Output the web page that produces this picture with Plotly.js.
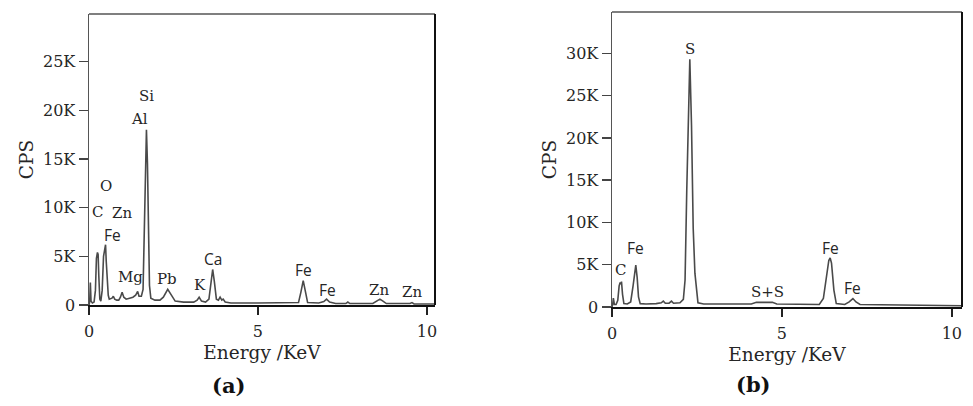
<!DOCTYPE html>
<html>
<head>
<meta charset="utf-8">
<script src="https://cdn.plot.ly/plotly-3.0.1.min.js"></script>
<style>
  html, body { margin: 0; padding: 0; background: #fff; }
  #chart { width: 973px; height: 406px; }
</style>
</head>
<body>
<div id="chart"></div>
<script>
// ---- Data: spectrum (a) ----
const energyA = [0.00,0.02,0.04,0.06,0.10,0.15,0.19,0.22,0.25,0.27,0.29,0.32,0.35,0.39,0.43,0.46,0.49,0.51,0.54,0.57,0.60,0.68,0.72,0.76,0.82,0.88,0.93,0.98,1.03,1.10,1.20,1.30,1.38,1.44,1.48,1.55,1.60,1.63,1.66,1.70,1.73,1.76,1.79,1.83,1.95,2.10,2.20,2.33,2.45,2.55,2.80,3.10,3.20,3.26,3.33,3.45,3.55,3.62,3.66,3.71,3.77,3.83,3.88,3.93,3.97,4.03,4.20,5.00,6.00,6.20,6.27,6.34,6.41,6.47,6.80,6.95,7.03,7.12,7.30,7.60,7.66,7.72,8.40,8.52,8.61,8.70,8.80,9.50,9.56,9.62,10.24];
const cpsA    = [0,300,2300,400,200,300,1500,4800,5400,5200,3000,600,400,1500,5000,5600,6200,4500,2500,1000,600,700,900,600,500,500,800,1300,800,600,700,800,1000,1400,900,900,1600,6200,14000,18000,14500,7600,2000,700,500,500,800,1600,900,400,300,300,500,800,400,300,600,2600,3650,2400,600,500,800,500,600,300,200,200,200,250,1300,2500,1300,250,200,350,600,300,150,150,300,150,150,450,600,400,150,150,250,120,100];

// ---- Data: spectrum (b) ----
const energyB = [0.00,0.02,0.04,0.07,0.12,0.17,0.21,0.24,0.26,0.28,0.31,0.35,0.45,0.55,0.62,0.67,0.70,0.74,0.78,0.83,1.00,1.30,1.45,1.51,1.57,1.68,1.75,1.81,2.00,2.10,2.15,2.20,2.25,2.29,2.34,2.39,2.44,2.48,2.53,2.70,3.50,4.10,4.25,4.45,4.60,4.72,4.85,5.50,6.10,6.22,6.30,6.38,6.42,6.46,6.53,6.60,6.85,6.98,7.09,7.18,7.30,8.00,9.00,10.30];
const cpsB    = [0,300,1050,300,300,800,2500,2900,2700,3000,1500,400,350,600,2500,4500,4950,3500,1200,400,350,400,500,700,450,450,700,450,500,900,3200,13800,24700,29300,21500,9300,4000,2250,500,350,350,350,550,550,600,550,350,300,300,1000,3500,5500,5800,5200,2000,400,300,600,1000,600,300,250,200,150];

// ---- Peak labels ----
const labelsA  = ["Si","Al","O","C","Zn","Fe","Mg","Pb","K","Ca","Fe","Fe","Zn","Zn"];
const labelXA  = [1.71,1.48,0.50,0.25,0.98,0.69,1.24,2.30,3.28,3.68,6.36,7.05,8.59,9.55];
const labelYA  = [21500,19100,12200,9570,9470,7200,2900,2700,2040,4700,3600,1540,1540,1300];

const labelsB  = ["S","C","Fe","S+S","Fe","Fe"];
const labelXB  = [2.29,0.26,0.70,4.59,6.42,7.09];
const labelYB  = [30580,4370,7010,1810,7010,2210];

// ---- Tick labels ----
const xTickVals = [0,5,10];
const xTickText = ["0","5","10"];
const yTickValsA = [0,5000,10000,15000,20000,25000];
const yTickTextA = ["0","5K","10K","15K","20K","25K"];
const yTickValsB = [0,5000,10000,15000,20000,25000,30000];
const yTickTextB = ["0","5K","10K","15K","20K","25K","30K"];

const panelLabels = ["(a)","(b)"];
const xTitle = "Energy /KeV";
const yTitle = "CPS";

// ---- Styling ----
const serif = "DejaVu Serif, Liberation Serif, serif";
const sans = "Open Sans, Noto Sans, sans-serif";
const textColor = "#262626";
const lineColor = "#4a4a4a";

const traces = [
  {x: energyA, y: cpsA, type: "scatter", mode: "lines", xaxis: "x", yaxis: "y",
   line: {color: lineColor, width: 1.6}, hoverinfo: "x+y", showlegend: false},
  {x: energyB, y: cpsB, type: "scatter", mode: "lines", xaxis: "x2", yaxis: "y2",
   line: {color: lineColor, width: 1.6}, hoverinfo: "x+y", showlegend: false}
];

function peakFont(t) {
  if (t === "Fe" || t === "Ca") return {family: sans, size: 15.5, color: textColor};
  return {family: serif, size: 15, color: textColor};
}

const annotations = [];
labelsA.forEach((t, i) => annotations.push({
  x: labelXA[i], y: labelYA[i], xref: "x", yref: "y", text: t, showarrow: false,
  xanchor: "center", yanchor: "middle", font: peakFont(t)
}));
labelsB.forEach((t, i) => annotations.push({
  x: labelXB[i], y: labelYB[i], xref: "x2", yref: "y2", text: t, showarrow: false,
  xanchor: "center", yanchor: "middle", font: peakFont(t)
}));
annotations.push({x: 228/973, y: 1 - 385/406, xref: "paper", yref: "paper", text: "<b>" + panelLabels[0] + "</b>",
  showarrow: false, xanchor: "center", yanchor: "middle", font: {family: serif, size: 21, color: "#111"}});
annotations.push({x: 753/973, y: 1 - 384/406, xref: "paper", yref: "paper", text: "<b>" + panelLabels[1] + "</b>",
  showarrow: false, xanchor: "center", yanchor: "middle", font: {family: serif, size: 21, color: "#111"}});

function xAxis(domain, range, anchor) {
  return {
    domain: domain, range: range, anchor: anchor,
    tickmode: "array", tickvals: xTickVals, ticktext: xTickText,
    ticks: "outside", ticklen: 8, tickwidth: 1.5, tickcolor: "#222",
    showline: true, linecolor: "#111", linewidth: 2, mirror: false,
    showgrid: false, zeroline: false, ticklabelstandoff: 3,
    tickfont: {family: serif, size: 16, color: textColor},
    title: {text: xTitle, font: {family: serif, size: 18.5, color: textColor}, standoff: 6}
  };
}
function yAxis(domain, range, anchor, vals, text) {
  return {
    domain: domain, range: range, anchor: anchor,
    tickmode: "array", tickvals: vals, ticktext: text,
    ticks: "outside", ticklen: 9, tickwidth: 1.5, tickcolor: "#444",
    showline: true, linecolor: "#555", linewidth: 1.5, mirror: false,
    showgrid: false, zeroline: false,
    tickfont: {family: serif, size: 16, color: textColor},
    title: {text: yTitle, font: {family: serif, size: 18.5, color: textColor}, standoff: 4}
  };
}

const frame = (xr, yr) => [
  {type: "line", xref: xr + " domain", yref: yr + " domain", x0: 0, x1: 1, y0: 1, y1: 1,
   line: {color: "#555", width: 1.5}},
  {type: "line", xref: xr + " domain", yref: yr + " domain", x0: 1, x1: 1, y0: 0, y1: 1,
   line: {color: "#111", width: 2}}
];

const layout = {
  width: 973, height: 406,
  margin: {l: 0, r: 0, t: 0, b: 0},
  paper_bgcolor: "#fff", plot_bgcolor: "#fff",
  showlegend: false,
  xaxis: xAxis([89/973, 435/973], [0, 10.24], "y"),
  yaxis: yAxis([1 - 305/406, 1 - 14/406], [0, 29900], "x", yTickValsA, yTickTextA),
  xaxis2: xAxis([612/973, 962/973], [0, 10.3], "y2"),
  yaxis2: yAxis([1 - 307/406, 1 - 12/406], [0, 34900], "x2", yTickValsB, yTickTextB),
  annotations: annotations,
  shapes: frame("x", "y").concat(frame("x2", "y2"))
};

Plotly.newPlot("chart", traces, layout, {displayModeBar: false, staticPlot: true});
</script>
</body>
</html>
